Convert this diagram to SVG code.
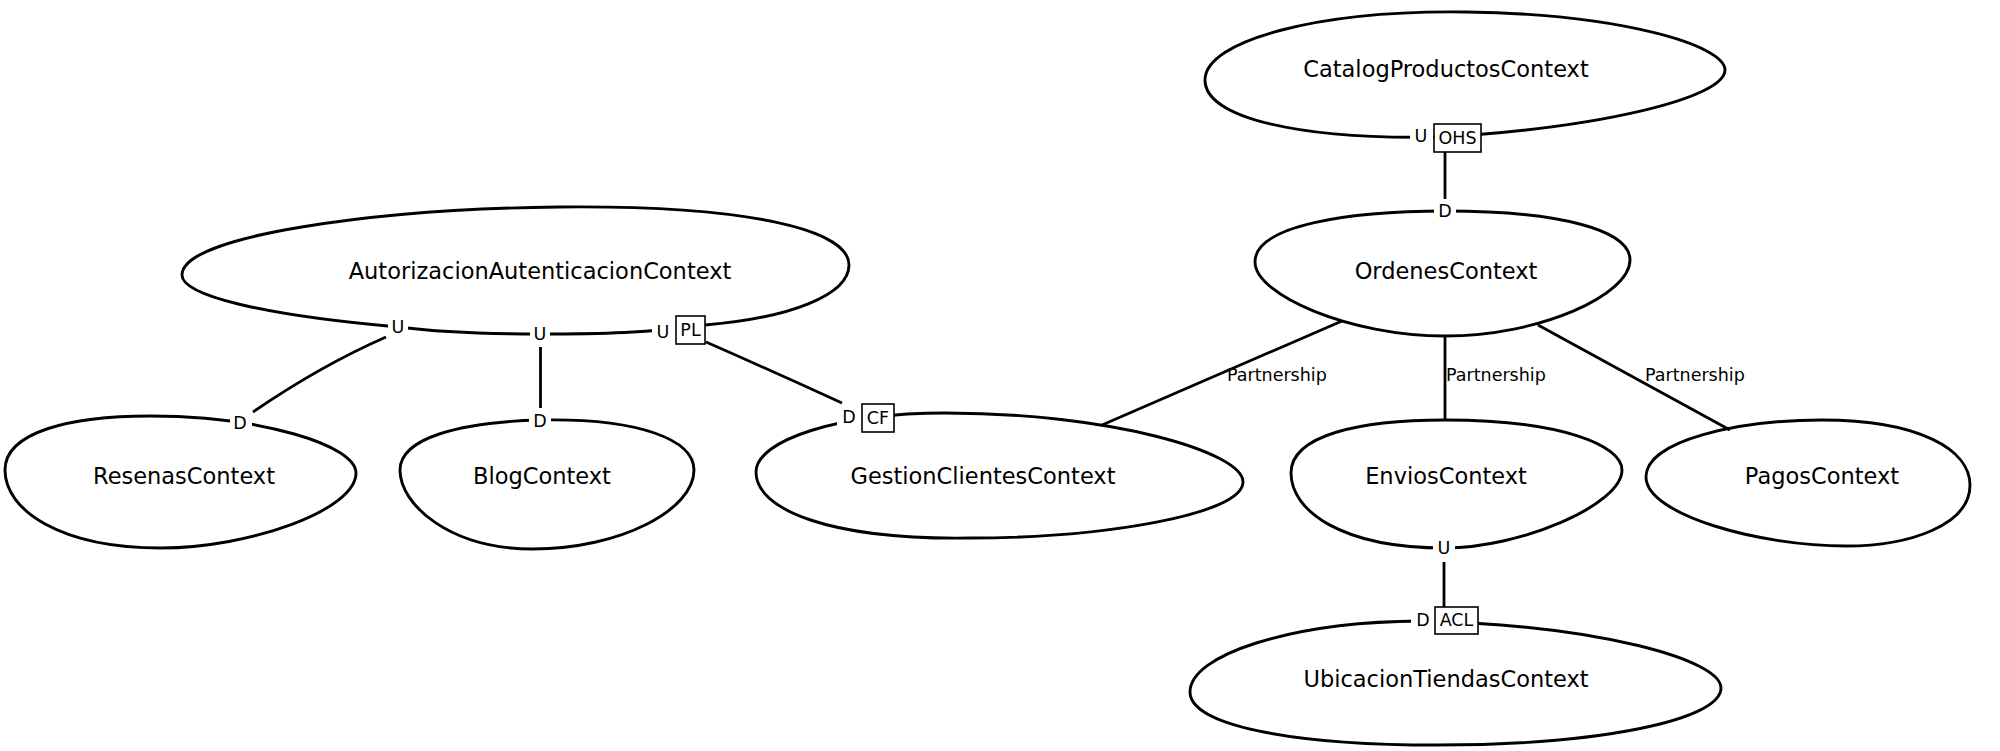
<svg xmlns="http://www.w3.org/2000/svg" width="2000" height="751" viewBox="0 0 2000 751">
<style>
.blob{fill:#fff;stroke:#000;stroke-width:2.9}
.name{font-family:"DejaVu Sans",sans-serif;font-size:22.5px;text-anchor:middle;fill:#000}
.edge{fill:none;stroke:#000;stroke-width:2.8}
.sm{font-family:"DejaVu Sans",sans-serif;font-size:17.5px;fill:#000}
.c{text-anchor:middle}
.bg{fill:#fff;stroke:none}
.box{fill:#fff;stroke:#000;stroke-width:1.6}
</style>
<rect width="2000" height="751" fill="#fff"/>
<g id="CatalogProductosContext">
<path class="blob" d="M1466,12 C1620,14 1725,45 1725,70 C1725,98 1600,128 1440,137 C1300,140 1205,118 1205,80 C1205,40 1320,10 1466,12 Z"/>
<text class="name" x="1446" y="77">CatalogProductosContext</text>
</g>
<g id="OrdenesContext">
<path class="blob" d="M1445,211 C1560,211 1630,230 1630,260 C1630,295 1540,336 1445,336 C1350,336 1255,295 1255,262 C1255,225 1350,211 1445,211 Z"/>
<text class="name" x="1446" y="279">OrdenesContext</text>
</g>
<g id="AutorizacionAutenticacionContext">
<path class="blob" d="M558,207 C750,205 849,230 849,265 C849,295 790,318 705,325 C650,333 600,334 540,334 C480,334 430,331 398,327 C260,315 182,295 182,275 C182,235 380,209 558,207 Z"/>
<text class="name" x="540" y="279">AutorizacionAutenticacionContext</text>
</g>
<g id="ResenasContext">
<path class="blob" d="M150,416 C260,416 356,445 356,473 C356,510 250,548 161,548 C60,548 5,510 5,470 C5,432 70,416 150,416 Z"/>
<text class="name" x="184" y="484">ResenasContext</text>
</g>
<g id="BlogContext">
<path class="blob" d="M540,420 C640,418 694,440 694,470 C694,510 620,549 533,549 C450,549 400,505 400,470 C400,438 460,422 540,420 Z"/>
<text class="name" x="542" y="484">BlogContext</text>
</g>
<g id="GestionClientesContext">
<path class="blob" d="M945,413 C1110,413 1243,452 1243,482 C1243,515 1100,538 970,538 C830,540 756,510 756,472 C756,440 840,413 945,413 Z"/>
<text class="name" x="983" y="484">GestionClientesContext</text>
</g>
<g id="EnviosContext">
<path class="blob" d="M1445,420 C1560,420 1622,445 1622,470 C1622,505 1520,548 1445,548 C1340,548 1291,510 1291,473 C1291,435 1360,420 1445,420 Z"/>
<text class="name" x="1446" y="484">EnviosContext</text>
</g>
<g id="PagosContext">
<path class="blob" d="M1822,420 C1920,420 1970,450 1970,485 C1970,525 1910,546 1846,546 C1760,546 1646,515 1646,477 C1646,440 1740,420 1822,420 Z"/>
<text class="name" x="1822" y="484">PagosContext</text>
</g>
<g id="UbicacionTiendasContext">
<path class="blob" d="M1420,621 C1600,625 1721,660 1721,688 C1721,720 1600,745 1437,745 C1290,745 1190,725 1190,692 C1190,655 1290,622 1420,621 Z"/>
<text class="name" x="1446" y="687">UbicacionTiendasContext</text>
</g>
<g id="connectors">
<path class="edge" d="M1445,152 L1445,199"/>
<path class="edge" d="M1444,562 L1444,607"/>
<path class="edge" d="M1342,321 L1102,425"/>
<path class="edge" d="M1445,336 L1445,420"/>
<path class="edge" d="M1538,325 L1730,430"/>
<path class="edge" d="M386,337 Q320,366 253,412"/>
<path class="edge" d="M540.5,347 L540.5,408"/>
<path class="edge" d="M706,342 Q770,370 842,403"/>
<text class="sm" x="1227" y="381">Partnership</text>
<text class="sm" x="1446" y="381">Partnership</text>
<text class="sm" x="1645" y="381">Partnership</text>
<rect class="bg" x="1410" y="125" width="23" height="22"/>
<text class="sm c" x="1421" y="142">U</text>
<rect class="box" x="1434" y="124" width="47" height="28"/>
<text class="sm c" x="1457.5" y="144">OHS</text>
<rect class="bg" x="1434" y="200" width="22" height="22"/>
<text class="sm c" x="1445" y="217">D</text>
<rect class="bg" x="388" y="316" width="20" height="22"/>
<text class="sm c" x="398" y="333">U</text>
<rect class="bg" x="530" y="323" width="20" height="22"/>
<text class="sm c" x="540" y="340">U</text>
<rect class="bg" x="652" y="321" width="24" height="22"/>
<text class="sm c" x="663" y="338">U</text>
<rect class="box" x="676" y="316" width="29" height="28"/>
<text class="sm c" x="690.5" y="336">PL</text>
<rect class="bg" x="230" y="412" width="22" height="22"/>
<text class="sm c" x="240" y="429">D</text>
<rect class="bg" x="529" y="410" width="22" height="22"/>
<text class="sm c" x="540" y="427">D</text>
<rect class="bg" x="837" y="406" width="25" height="22"/>
<text class="sm c" x="849" y="423">D</text>
<rect class="box" x="862" y="404" width="32" height="28"/>
<text class="sm c" x="878" y="424">CF</text>
<rect class="bg" x="1433" y="537" width="22" height="22"/>
<text class="sm c" x="1444" y="554">U</text>
<rect class="bg" x="1411" y="609" width="24" height="22"/>
<text class="sm c" x="1423" y="626">D</text>
<rect class="box" x="1435" y="607" width="43" height="27"/>
<text class="sm c" x="1456.5" y="626">ACL</text>
</g>
</svg>
